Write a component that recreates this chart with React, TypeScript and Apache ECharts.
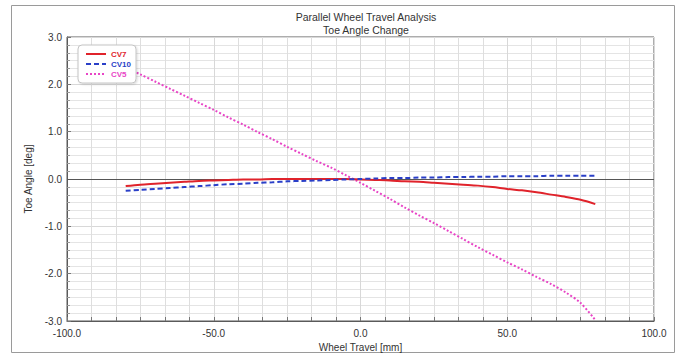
import React, { useEffect, useRef } from "react";
import * as echarts from "echarts";

// Wheel travel positions [mm]
const travel: number[] = [
  -80, -75, -70, -65, -60, -55, -50, -45, -40, -35, -30, -25, -20, -15, -10, -5,
  0, 5, 10, 15, 20, 25, 30, 35, 40, 45, 50, 55, 60, 65, 70, 75, 80,
];

// Toe angle [deg] for each variant
const cv7: number[] = [
  -0.15, -0.12, -0.1, -0.08, -0.06, -0.04, -0.03, -0.02, -0.01, -0.01, 0.0, 0.0, 0.0, 0.0, 0.0, 0.0,
  -0.01, -0.02, -0.03, -0.05, -0.06, -0.08, -0.1, -0.12, -0.14, -0.17, -0.21, -0.24, -0.28, -0.33, -0.38, -0.44, -0.53,
];
const cv10: number[] = [
  -0.25, -0.23, -0.21, -0.19, -0.17, -0.15, -0.13, -0.11, -0.1, -0.08, -0.07, -0.05, -0.04, -0.03, -0.02, -0.01,
  0.0, 0.01, 0.02, 0.02, 0.03, 0.03, 0.04, 0.04, 0.05, 0.05, 0.06, 0.06, 0.06, 0.07, 0.07, 0.07, 0.07,
];
const cv5: number[] = [
  2.36, 2.21, 2.06, 1.91, 1.76, 1.61, 1.46, 1.3, 1.15, 0.99, 0.84, 0.68, 0.53, 0.38, 0.24, 0.08,
  -0.08, -0.25, -0.42, -0.6, -0.77, -0.93, -1.1, -1.27, -1.44, -1.6, -1.76, -1.91, -2.07, -2.22, -2.4, -2.62, -2.98,
];

const titleLines = ["Parallel Wheel Travel Analysis", "Toe Angle Change"];
const xName = "Wheel Travel [mm]";
const yName = "Toe Angle [deg]";

const RED = "#e0232b";
const BLUE = "#2a3fc8";
const MAGENTA = "#e845c6";
const FONT = "Liberation Sans, Arial, sans-serif";

const pairs = (ys: number[]) => travel.map((x, i) => [x, ys[i]]);

export default function App() {
  const ref = useRef<HTMLDivElement>(null);

  useEffect(() => {
    if (!ref.current) return;
    const chart = echarts.init(ref.current, undefined, { renderer: "svg" });
    const axisText = { color: "#333", fontSize: 10, fontFamily: FONT };
    chart.setOption({
      animation: false,
      backgroundColor: "#fff",
      title: {
        text: titleLines.join("\n"),
        left: 361,
        textAlign: "center",
        top: 5,
        textStyle: { color: "#333", fontSize: 10.5, fontWeight: "normal", fontFamily: FONT, lineHeight: 13 },
      },
      graphic: [
        {
          type: "rect",
          shape: { x: 11.5, y: 5.5, width: 663, height: 347 },
          style: { fill: "none", stroke: "#9a9a9a", lineWidth: 1 },
          silent: true,
        },
      ],
      legend: {
        orient: "vertical",
        left: 78,
        top: 45,
        padding: [5, 5, 5, 7],
        itemWidth: 20,
        itemHeight: 8,
        itemGap: 2,
        backgroundColor: "#fff",
        borderColor: "#c4c4c4",
        borderWidth: 1,
        borderRadius: 4,
        shadowColor: "rgba(0,0,0,0.15)",
        shadowBlur: 2,
        shadowOffsetX: 1,
        shadowOffsetY: 1,
        itemStyle: { opacity: 0 },
        data: [
          { name: "CV7", textStyle: { color: RED } },
          { name: "CV10", textStyle: { color: BLUE } },
          { name: "CV5", textStyle: { color: MAGENTA } },
        ],
        textStyle: { fontSize: 8, fontWeight: "bold", fontFamily: FONT },
      },
      grid: {
        left: 67,
        right: 32,
        top: 37,
        bottom: 37,
        show: true,
        borderColor: "#5a5a5a",
        borderWidth: 1,
      },
      xAxis: {
        type: "value",
        min: -100,
        max: 100,
        interval: 50,
        name: xName,
        nameLocation: "middle",
        nameGap: 17,
        nameTextStyle: axisText,
        axisLine: { show: true, onZero: false, lineStyle: { color: "#5a5a5a" } },
        axisTick: { show: true, inside: true, length: 4, lineStyle: { color: "#777" } },
        minorTick: { show: true, splitNumber: 6, length: 4, lineStyle: { color: "#777" } },
        splitLine: { show: true, lineStyle: { color: "#d8d8d8" } },
        minorSplitLine: { show: true, lineStyle: { color: "#dedede" } },
        axisLabel: { ...axisText, margin: 7, formatter: (v: number) => v.toFixed(1) },
      },
      yAxis: {
        type: "value",
        min: -3,
        max: 3,
        interval: 1,
        name: yName,
        nameLocation: "middle",
        nameGap: 32,
        nameTextStyle: axisText,
        axisLine: { show: true, onZero: false, lineStyle: { color: "#5a5a5a" } },
        axisTick: { show: true, inside: true, length: 4, lineStyle: { color: "#777" } },
        minorTick: { show: true, splitNumber: 6, length: 3, lineStyle: { color: "#999" } },
        splitLine: { show: true, lineStyle: { color: "#d8d8d8" } },
        minorSplitLine: { show: true, lineStyle: { color: "#e4e4e4" } },
        axisLabel: { ...axisText, margin: 5, formatter: (v: number) => v.toFixed(1) },
      },
      series: [
        {
          name: "CV7",
          type: "line",
          data: pairs(cv7),
          symbol: "none",
          smooth: 0.3,
          color: RED,
          lineStyle: { color: RED, width: 2, type: "solid" },
          z: 4,
          markLine: {
            silent: true,
            symbol: "none",
            label: { show: false },
            lineStyle: { color: "#555", width: 1.2, type: "solid" },
            data: [{ yAxis: 0 }],
            z: 1,
          },
        },
        {
          name: "CV10",
          type: "line",
          data: pairs(cv10),
          symbol: "none",
          smooth: 0.3,
          color: BLUE,
          lineStyle: { color: BLUE, width: 2, type: [5, 3] },
          z: 5,
        },
        {
          name: "CV5",
          type: "line",
          data: pairs(cv5),
          symbol: "none",
          smooth: 0.3,
          color: MAGENTA,
          lineStyle: { color: MAGENTA, width: 2, type: [2, 2] },
          z: 3,
        },
      ],
    });
    return () => chart.dispose();
  }, []);

  return (
    <div
      ref={ref}
      style={{ position: "fixed", left: 0, top: 0, width: 686, height: 358, background: "#fff" }}
    />
  );
}
